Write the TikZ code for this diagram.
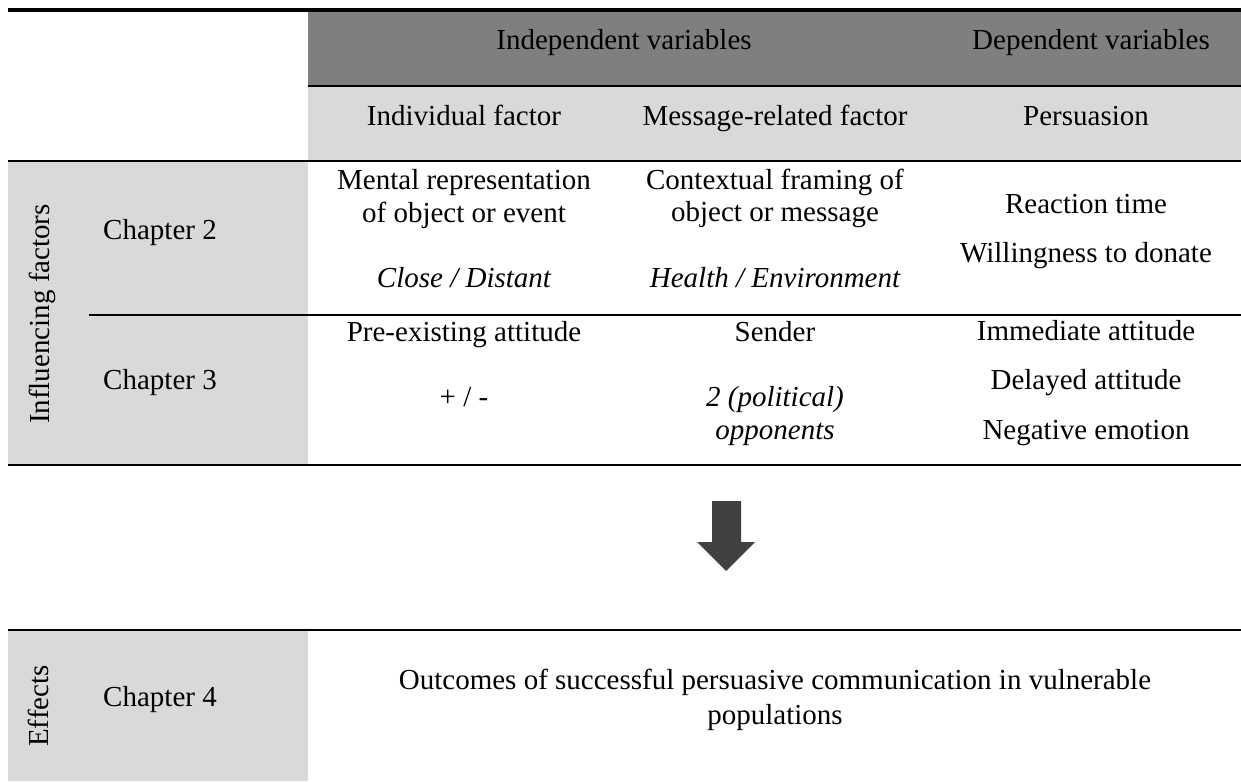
\documentclass[tikz,border=0pt]{standalone}
\usepackage{fontspec}
\setmainfont{Liberation Serif}
\definecolor{hdark}{HTML}{7F7F7F}
\definecolor{hlight}{HTML}{D9D9D9}
\definecolor{arrowgray}{HTML}{404040}
\begin{document}
\begin{tikzpicture}[x=1pt,y=-1pt,
  txt/.style={font=\fontsize{29}{33}\selectfont, inner sep=0pt, text height=19pt, text depth=6pt, anchor=center},
  itxt/.style={txt, font=\fontsize{29}{33}\selectfont\itshape},
  vtxt/.style={txt, rotate=90},
  heavyrule/.style={line width=4pt},
  midrule/.style={line width=2.7pt},
  thinrule/.style={line width=1.7pt}]
\useasboundingbox (0,0) rectangle (1241,781);
\fill[white] (0,0) rectangle (1241,781);

% shaded cells
\fill[hdark]  (308,12)  rectangle (1241,86);
\fill[hlight] (308,86)  rectangle (1241,161);
\fill[hlight] (8,161)   rectangle (308,465);
\fill[hlight] (8,630)   rectangle (308,781);

% table rules
\draw[heavyrule] (8,10)    -- (1241,10);
\draw[thinrule]  (308,86)  -- (1241,86);
\draw[midrule]   (8,161)   -- (1241,161);
\draw[thinrule]  (89,315)  -- (1241,315);
\draw[midrule]   (8,465)   -- (1241,465);
\draw[midrule]   (8,630)   -- (1241,630);

% header rows
\node[txt] (indep) at (624,43)  {Independent variables};
\node[txt] (dep)   at (1091,43) {Dependent variables};
\node[txt] (indiv) at (464,119) {Individual factor};
\node[txt] (msg)   at (775,119) {Message-related factor};
\node[txt] (pers)  at (1086,119) {Persuasion};

% influencing factors block
\node[vtxt] (infl) at (43,314) {Influencing factors};
\node[txt] (ch2) at (160,233) {Chapter 2};
\node[txt] (ch3) at (160,383) {Chapter 3};

\node[txt]  (mentA) at (464,183) {Mental representation};
\node[txt]  (mentB) at (464,216) {of object or event};
\node[itxt] (close) at (464,281) {Close / Distant};
\node[txt]  (ctxA)  at (775,183) {Contextual framing of};
\node[txt]  (ctxB)  at (775,215) {object or message};
\node[itxt] (hlth)  at (775,281) {Health / Environment};
\node[txt]  (react) at (1086,207) {Reaction time};
\node[txt]  (will)  at (1086,256) {Willingness to donate};

\node[txt]  (pre)   at (464,335) {Pre-existing attitude};
\node[txt]  (pm)    at (464,400) {+ / -};
\node[txt]  (send)  at (775,335) {Sender};
\node[itxt] (polA)  at (775,400) {2 (political)};
\node[itxt] (polB)  at (775,433) {opponents};
\node[txt]  (imm)   at (1086,334) {Immediate attitude};
\node[txt]  (del)   at (1086,383) {Delayed attitude};
\node[txt]  (neg)   at (1086,433) {Negative emotion};

% block arrow
\fill[arrowgray] (712,501) -- (741,501) -- (741,542) -- (755,542) -- (726,571)
  -- (697,542) -- (712,542) -- cycle;

% effects block
\node[vtxt] (eff) at (42,706) {Effects};
\node[txt]  (ch4) at (160,700) {Chapter 4};
\node[txt]  (outA) at (775,683) {Outcomes of successful persuasive communication in vulnerable};
\node[txt]  (outB) at (775,718) {populations};
\end{tikzpicture}
\end{document}
